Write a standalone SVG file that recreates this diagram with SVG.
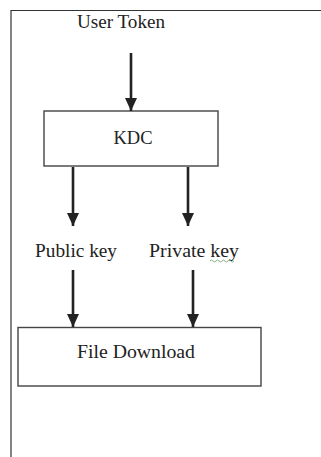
<svg xmlns="http://www.w3.org/2000/svg" width="321" height="457" viewBox="0 0 321 457">
<defs>
<marker id="ah" markerWidth="13" markerHeight="12" refX="13" refY="6" orient="auto" markerUnits="userSpaceOnUse" viewBox="0 0 13 12">
<path d="M0,0 L13,6 L0,12 Z" fill="#222"/>
</marker>
</defs>
<style>
.frame{fill:none;stroke:#333;stroke-width:1.2}
.box{fill:#fff;stroke:#444;stroke-width:1.4}
.lbl{font-family:"Liberation Serif","Times New Roman",serif;font-size:18.5px;fill:#222;text-anchor:middle}
.arr{stroke:#222;stroke-width:2.6;fill:none}
</style>
<rect width="321" height="457" fill="#fff"/>
<path class="frame" d="M11,457 L11,10.5 L321,10.5"/>
<g id="user-token"><text class="lbl" x="121" y="28" textLength="88" lengthAdjust="spacingAndGlyphs">User Token</text></g>
<g id="kdc"><rect class="box" x="44" y="111" width="174" height="55"/><text class="lbl" x="133" y="144">KDC</text></g>
<g id="public-key"><text class="lbl" x="76" y="257" textLength="82" lengthAdjust="spacingAndGlyphs">Public key</text></g>
<g id="private-key"><text class="lbl" x="194" y="257" textLength="90" lengthAdjust="spacingAndGlyphs">Private key</text>
<path d="M210,261 q1.5,-2 3,0 t3,0 t3,0 t3,0 t3,0 t3,0 t3,0 t3,0" fill="none" stroke="#6a9a6a" stroke-width="0.8"/></g>
<g id="file-download"><rect class="box" x="18" y="327.5" width="243" height="58.5"/><text class="lbl" x="136" y="358" textLength="118" lengthAdjust="spacingAndGlyphs">File Download</text></g>
<g id="connectors">
<line class="arr" x1="131" y1="53" x2="131" y2="111" marker-end="url(#ah)"/>
<line class="arr" x1="73" y1="167" x2="73" y2="226" marker-end="url(#ah)"/>
<line class="arr" x1="188" y1="167" x2="188" y2="226" marker-end="url(#ah)"/>
<line class="arr" x1="73" y1="270" x2="73" y2="327" marker-end="url(#ah)"/>
<line class="arr" x1="193" y1="270" x2="193" y2="327" marker-end="url(#ah)"/>
</g>
</svg>
